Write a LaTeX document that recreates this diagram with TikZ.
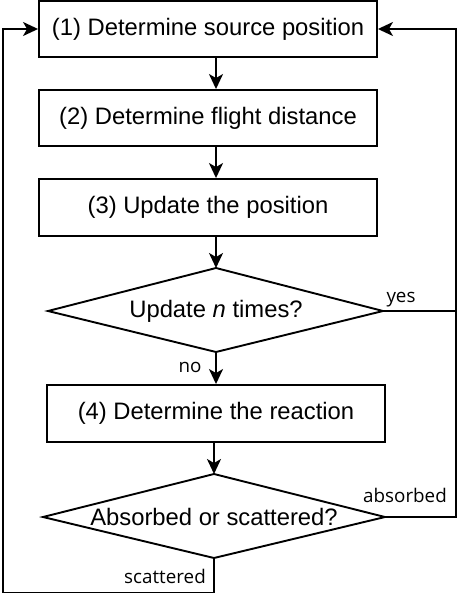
\documentclass[tikz,border=0pt]{standalone}
\usepackage{fontspec}
\setmainfont{Liberation Sans}
\newfontfamily\labelfont{Open Sans}
\usetikzlibrary{arrows.meta,shapes.geometric}
\begin{document}
\begin{tikzpicture}[x=1pt,y=-1pt,
  line width=1.9pt,
  txt/.style={font=\fontsize{23.8}{26}\selectfont},
  stepbox/.style={draw,line width=1.9pt,rectangle,inner sep=0pt,txt},
  conn/.style={line width=1.9pt,-{Stealth[length=15pt,width=14pt,inset=4pt]}},
  lbl/.style={font=\labelfont\fontsize{18.8}{21}\selectfont,inner sep=0pt}]
\useasboundingbox (0,0) rectangle (457,594);
\node[stepbox,minimum width=338pt,minimum height=56pt] (b1) at (208,29) {(1) Determine source position};
\node[stepbox,minimum width=338pt,minimum height=56pt] (b2) at (208,118) {(2) Determine flight distance};
\node[stepbox,minimum width=338pt,minimum height=57pt] (b3) at (208,207.5) {(3) Update the position};
\path[draw] (216,268) coordinate (d1n) -- (383,311) coordinate (d1e) -- (216,352) coordinate (d1s) -- (48,311) coordinate (d1w) -- cycle;
\node[txt] (t1) at (216,311) {Update \textit{n} times?};
\node[stepbox,minimum width=338pt,minimum height=57pt] (b4) at (216,413.5) {(4) Determine the reaction};
\path[draw] (214,474) coordinate (d2n) -- (385,517) coordinate (d2e) -- (214,558) coordinate (d2s) -- (43,517) coordinate (d2w) -- cycle;
\node[txt] (t2) at (214,517) {Absorbed or scattered?};
\coordinate (col) at (216,0);
\draw[conn] (b1.south -| col) -- (b2.north -| col);
\draw[conn] (b2.south -| col) -- (b3.north -| col);
\draw[conn] (b3.south -| col) -- (d1n);
\draw[conn] (d1s) -- (b4.north -| col);
\draw[conn] (b4.south -| d2n) -- (d2n);
\coordinate (rl) at (456,0);
\coordinate (ll) at (3,0);
\coordinate (bot) at (0,592.5);
\draw[conn] (d2e) -- (d2e -| rl) -- (b1.east -| rl) -- (b1.east);
\draw (d1e) -- (d1e -| rl);
\draw[conn] (d2s) -- (d2s |- bot) -- (bot -| ll) -- (b1.west -| ll) -- (b1.west);
\node[lbl,anchor=base] (yes) at (401,302) {yes};
\node[lbl,anchor=base] (no) at (190,372) {no};
\node[lbl,anchor=base] (abs) at (405,502) {absorbed};
\node[lbl,anchor=base] (sca) at (165,583) {scattered};
\end{tikzpicture}
\end{document}
